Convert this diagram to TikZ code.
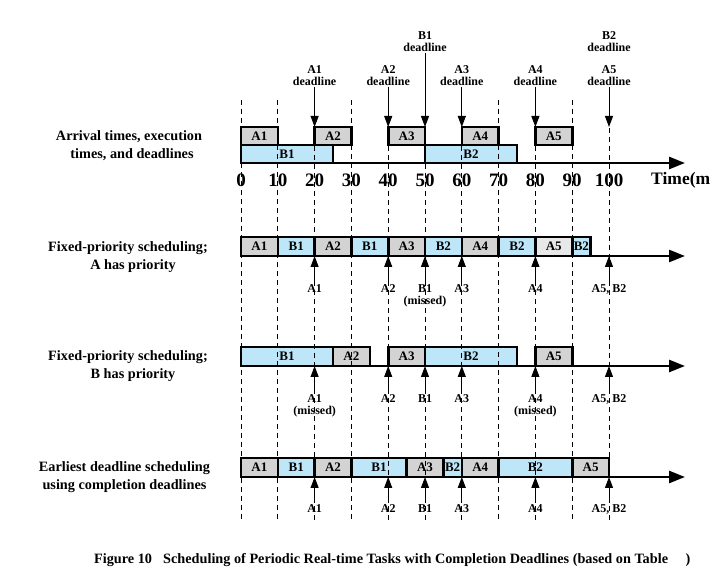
\documentclass[tikz,border=0pt]{standalone}
\usepackage{fontspec}
\setmainfont{Liberation Serif}
\usetikzlibrary{arrows.meta}
\definecolor{gbox}{HTML}{D3D3D3}
\definecolor{lgbox}{HTML}{E8E8E8}
\definecolor{bbox}{HTML}{BEE6F9}
\newcommand{\mybox}[7]{%
  \pgfmathsetmacro\bw{3.68*(#3-#2)}%
  \node[tbox, fill=#7, minimum width=\bw pt, minimum height=#5pt, anchor=north west] (#1) at ({241+3.68*#2},#4) {#6};}
\tikzset{
  tbox/.style={draw, line width=2.6pt, inner sep=0pt, outer sep=0pt, font=\bfseries\fontsize{13}{13}\selectfont},
  guide/.style={line width=0.7pt, dash pattern=on 5pt off 4pt, black},
  axisline/.style={line width=2.6pt, -{Triangle[length=16pt,width=12pt]}},
  dlarrow/.style={line width=1pt, -{Triangle[length=11pt,width=8pt]}},
  lbl/.style={font=\bfseries\fontsize{12}{12}\selectfont, align=center, inner sep=1pt},
  rowlbl/.style={font=\bfseries\fontsize{14.25}{18}\selectfont, align=center, inner sep=0pt},
  ticklbl/.style={font=\bfseries\fontsize{19}{19}\selectfont, inner sep=0pt},
  caption/.style={font=\bfseries\fontsize{14.25}{14}\selectfont, inner sep=0pt, anchor=west}
}
\begin{document}
\begin{tikzpicture}[x=1pt,y=-1pt]
\useasboundingbox (0,0) rectangle (713,585);
\begin{scope}
\clip (0,0) rectangle (713,585);
% row labels
\node[rowlbl] (lab1) at (129,146) {Arrival times, execution\\ \hspace{6pt}times, and deadlines};
\node[rowlbl] (lab2) at (128,257.5) {Fixed-priority scheduling;\\ \hspace{10pt}A has priority};
\node[rowlbl] (lab3) at (128,366.5) {Fixed-priority scheduling;\\ \hspace{10pt}B has priority};
\node[rowlbl] (lab4) at (124.5,477.5) {Earliest deadline scheduling\\using completion deadlines};

% row 1 boxes
\mybox{r1a1}{0}{10}{127}{18}{A1}{gbox}
\mybox{r1a2}{20}{30}{127}{18}{A2}{gbox}
\mybox{r1a3}{40}{50}{127}{18}{A3}{gbox}
\mybox{r1a4}{60}{70}{127}{18}{A4}{gbox}
\mybox{r1a5}{80}{90}{127}{18}{A5}{gbox}
\mybox{r1b1}{0}{25}{145}{18}{B1}{bbox}
\mybox{r1b2}{50}{75}{145}{18}{B2}{bbox}

% row 2 boxes
\mybox{r2a1}{0}{10}{237}{19}{A1}{gbox}
\mybox{r2b1}{10}{20}{237}{19}{B1}{bbox}
\mybox{r2a2}{20}{30}{237}{19}{A2}{gbox}
\mybox{r2b1b}{30}{40}{237}{19}{B1}{bbox}
\mybox{r2a3}{40}{50}{237}{19}{A3}{gbox}
\mybox{r2b2}{50}{60}{237}{19}{B2}{bbox}
\mybox{r2a4}{60}{70}{237}{19}{A4}{gbox}
\mybox{r2b2b}{70}{80}{237}{19}{B2}{bbox}
\mybox{r2a5}{80}{90}{237}{19}{A5}{lgbox}
\mybox{r2b2c}{90}{95}{237}{19}{B2}{bbox}

% row 3 boxes
\mybox{r3b1}{0}{25}{347}{19}{B1}{bbox}
\mybox{r3a2}{25}{35}{347}{19}{A2}{gbox}
\mybox{r3a3}{40}{50}{347}{19}{A3}{gbox}
\mybox{r3b2}{50}{75}{347}{19}{B2}{bbox}
\mybox{r3a5}{80}{90}{347}{19}{A5}{gbox}

% row 4 boxes
\mybox{r4a1}{0}{10}{458}{19}{A1}{gbox}
\mybox{r4b1}{10}{20}{458}{19}{B1}{bbox}
\mybox{r4a2}{20}{30}{458}{19}{A2}{gbox}
\mybox{r4b1b}{30}{45}{458}{19}{B1}{bbox}
\mybox{r4a3}{45}{55}{458}{19}{A3}{gbox}
\mybox{r4b2}{55}{60}{458}{19}{B2}{bbox}
\mybox{r4a4}{60}{70}{458}{19}{A4}{gbox}
\mybox{r4b2b}{70}{90}{458}{19}{B2}{bbox}
\mybox{r4a5}{90}{100}{458}{19}{A5}{gbox}

% guide lines
\foreach \t in {0,10,30,70,90} \draw[guide] ({241+3.68*\t},100) -- ({241+3.68*\t},520);
\foreach \t in {20,40,50,60,80,100} \draw[guide] ({241+3.68*\t},128) -- ({241+3.68*\t},520);

% axes
\foreach \r/\y in {1/163,2/256,3/366,4/477} {
  \coordinate (ax\r s) at (241,\y);
  \coordinate (ax\r e) at (685,\y);
  \draw[axisline] (ax\r s) -- (ax\r e);
}

% tick labels
\foreach \t in {0,10,...,100} \node[ticklbl] (tk\t) at ({241+3.68*\t},180) {\t};
\node[ticklbl, font=\bfseries\fontsize{17.5}{17.5}\selectfont, anchor=west] (timelbl) at (651,180) {Time(m};

% deadlines (top)
\foreach \t/\n in {20/1,40/2,60/3,80/4,100/5} {
  \node[lbl, anchor=south] (dlA\n) at ({241+3.68*\t},87) {A\n\\deadline};
  \coordinate (dtA\n) at ({241+3.68*\t},127);
  \draw[dlarrow] (dlA\n) -- (dtA\n);
}
\node[lbl, anchor=south] (dlB1) at (425,53) {B1\\deadline};
\coordinate (dtB1) at (425,127);
\draw[dlarrow] (dlB1) -- (dtB1);
\node[lbl, anchor=south] (dlB2) at (609,53) {B2\\deadline};

% row 2 completion arrows
\foreach \t/\lab/\nm in {20/A1/a,40/A2/b,50/{B1\\(missed)}/c,60/A3/d,80/A4/e,100/{A5, B2}/f} {
  \node[lbl, anchor=north] (u2\nm) at ({241+3.68*\t},283) {\lab};
  \coordinate (v2\nm) at ({241+3.68*\t},256);
  \draw[dlarrow] (u2\nm) -- (v2\nm);
}
% row 3
\foreach \t/\lab/\nm in {20/{A1\\(missed)}/a,40/A2/b,50/B1/c,60/A3/d,80/{A4\\(missed)}/e,100/{A5, B2}/f} {
  \node[lbl, anchor=north] (u3\nm) at ({241+3.68*\t},393) {\lab};
  \coordinate (v3\nm) at ({241+3.68*\t},366);
  \draw[dlarrow] (u3\nm) -- (v3\nm);
}
% row 4
\foreach \t/\lab/\nm in {20/A1/a,40/A2/b,50/B1/c,60/A3/d,80/A4/e,100/{A5, B2}/f} {
  \node[lbl, anchor=north] (u4\nm) at ({241+3.68*\t},503) {\lab};
  \coordinate (v4\nm) at ({241+3.68*\t},477);
  \draw[dlarrow] (u4\nm) -- (v4\nm);
}

% caption
\node[caption] (fig) at (94,560) {Figure 10};
\node[caption] (captxt) at (163,560) {Scheduling of Periodic Real-time Tasks with Completion Deadlines (based on Table \hspace{14pt})};
\end{scope}
\end{tikzpicture}
\end{document}
